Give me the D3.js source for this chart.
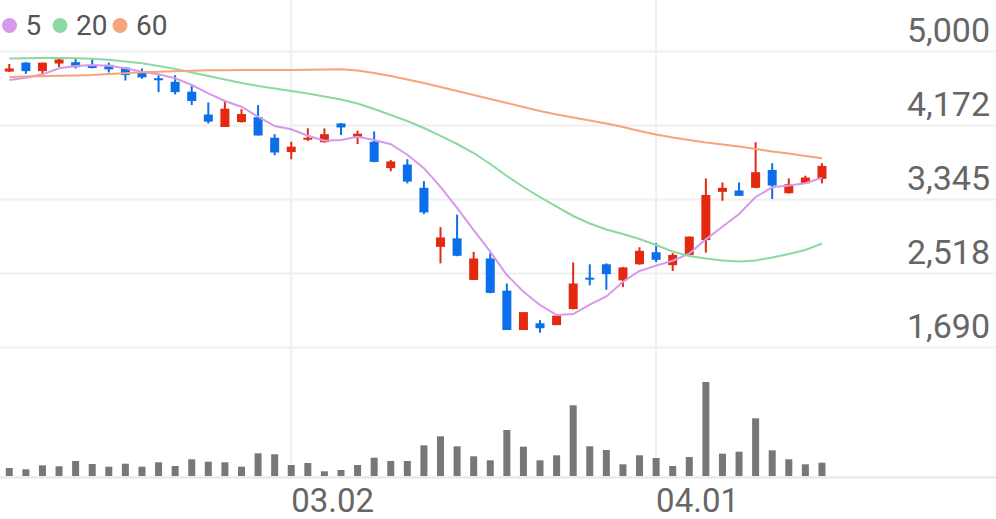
<!DOCTYPE html>
<html><head><meta charset="utf-8">
<script src="https://cdn.jsdelivr.net/npm/d3@7"></script>
<style>html,body{margin:0;padding:0;background:#fff;} svg{display:block;}</style>
</head><body><svg id="c" width="996" height="519"></svg>
<script>
const dates = ["02.06","02.07","02.10","02.11","02.12","02.13","02.14","02.17","02.18","02.19","02.20","02.21","02.24","02.25","02.26","02.27","02.28","03.02","03.03","03.04","03.05","03.06","03.09","03.10","03.11","03.12","03.13","03.16","03.17","03.18","03.19","03.20","03.23","03.24","03.25","03.26","03.27","03.30","03.31","04.01","04.02","04.03","04.06","04.07","04.08","04.09","04.10","04.13","04.14","04.16"];
const open  = [4770,4870,4775,4860,4875,4835,4845,4815,4755,4695,4655,4545,4290,4150,4205,4260,4030,3870,4010,3980,4190,4040,3985,3690,3730,3470,2810,2905,2440,2680,2320,1880,1955,1935,2115,2465,2615,2435,2615,2750,2605,2720,2885,3425,3440,3470,3670,3410,3520,3570];
const high  = [4855,4875,4870,4925,4925,4920,4870,4820,4805,4730,4730,4610,4425,4450,4350,4395,4070,3985,4135,4135,4195,4110,4100,3780,3790,3545,3030,3170,2755,2740,2400,2080,1990,2040,2635,2615,2625,2585,2805,2850,2740,2925,3575,3530,3530,3980,3745,3575,3605,3745];
const low   = [4765,4745,4725,4820,4805,4805,4760,4670,4690,4540,4515,4395,4190,4150,4200,4055,3835,3790,3995,3975,4060,3960,3755,3655,3520,3175,2625,2705,2440,2290,1880,1880,1850,1935,2110,2380,2330,2360,2610,2640,2540,2715,2745,3325,3380,3465,3345,3405,3520,3520];
const close = [4805,4775,4870,4905,4820,4810,4795,4730,4705,4680,4540,4440,4210,4355,4295,4055,3865,3930,4030,4070,4145,4075,3760,3765,3540,3195,2915,2710,2680,2295,1880,2080,1900,2040,2400,2445,2505,2580,2765,2665,2720,2925,3390,3470,3380,3645,3495,3510,3585,3715];
const volume = [80,67,107,97,150,120,93,123,93,137,100,167,143,137,93,227,217,110,130,47,60,110,183,150,150,307,397,297,197,157,460,293,157,207,707,297,260,117,207,180,100,190,940,223,243,577,257,167,117,133];
const ma5  = [4676,4701,4739,4807,4832,4843,4836,4807,4769,4739,4695,4620,4527,4441,4377,4265,4161,4124,4053,3997,4005,4042,4005,3957,3840,3690,3480,3245,2998,2756,2495,2308,2160,2048,2059,2165,2255,2420,2540,2600,2655,2735,2894,3035,3177,3368,3476,3496,3521,3582];
const ma20 = [4916,4919,4922,4922,4918,4913,4902,4883,4862,4832,4799,4760,4720,4681,4642,4609,4581,4553,4525,4491,4458,4413,4351,4284,4217,4139,4050,3960,3859,3736,3602,3479,3367,3261,3155,3071,3004,2954,2898,2831,2758,2708,2680,2657,2646,2657,2691,2730,2775,2848];
const ma60 = [4709,4714,4718,4723,4727,4732,4743,4752,4761,4769,4774,4779,4784,4786,4788,4788,4788,4788,4790,4793,4796,4782,4754,4720,4681,4642,4597,4553,4508,4463,4419,4374,4329,4290,4256,4223,4189,4150,4105,4066,4033,4005,3977,3954,3932,3904,3876,3854,3826,3800];
const maNames = ["5","20","60"];
const maColors = ["#d59aea","#8bd9a2","#f6a47c"];
const priceTicks = [5000,4172.5,3345,2517.5,1690];
const priceTickLabels = ["5,000","4,172","3,345","2,518","1,690"];
const dateTicks = ["03.02","04.01"];

const W = 996, H = 519;
const svg = d3.select('#c');
svg.append('rect').attr('width',W).attr('height',H).attr('fill','#fff');

const x = d3.scaleBand().domain(dates).range([1, 830.25]).padding(0);
const cx = d => x(d) + x.bandwidth()/2;
const y = d3.scaleLinear().domain([1690, 5000]).range([347, 51]);
const yv = d3.scaleLinear().domain([0, d3.max(volume)]).range([476, 382]);

const gridColor = '#efefef';
const labelFont = "Roboto, sans-serif";
// y grid + labels
const gy = svg.append('g')
  .call(d3.axisRight(y).tickValues(priceTicks).tickSize(W).tickFormat((d,i)=>priceTickLabels[i]));
gy.select('.domain').remove();
gy.selectAll('.tick line').attr('stroke', gridColor).attr('stroke-width', 2);
gy.selectAll('.tick text').attr('x', 990).attr('y', -10).attr('dy', 0)
  .attr('text-anchor','end').attr('fill','#666')
  .style('font-family', labelFont).style('font-size','34px');

// x grid + labels
const gx = svg.append('g').attr('transform','translate(0,477)')
  .call(d3.axisBottom(x).tickValues(dateTicks).tickSize(-477));
gx.select('.domain').remove();
gx.selectAll('.tick line').attr('stroke', gridColor).attr('stroke-width', 2);
gx.selectAll('.tick text').attr('x', 0).attr('y', 35).attr('dy', 0)
  .attr('text-anchor','start').attr('fill','#666')
  .style('font-family', labelFont).style('font-size','33px');

svg.append('line').attr('x1',0).attr('x2',W).attr('y1',477.5).attr('y2',477.5)
  .attr('stroke','#e6e6e6').attr('stroke-width',2);

// volume
svg.append('g').selectAll('rect').data(dates).join('rect')
  .attr('x', d => cx(d) - 3.5).attr('width', 7)
  .attr('y', (d,i) => yv(volume[i])).attr('height', (d,i) => 476 - yv(volume[i]))
  .attr('fill', '#777');

// candles
const red = '#e3290f', blue = '#0b6fe9';
const cg = svg.append('g');
const col = i => close[i] >= open[i] ? red : blue;
cg.selectAll('line').data(dates).join('line')
  .attr('x1', d => cx(d)).attr('x2', d => cx(d))
  .attr('y1', (d,i) => y(high[i])).attr('y2', (d,i) => y(low[i]))
  .attr('stroke', (d,i) => col(i)).attr('stroke-width', 2);
cg.selectAll('rect').data(dates).join('rect')
  .attr('x', d => cx(d) - 4.5).attr('width', 9)
  .attr('y', (d,i) => y(Math.max(open[i], close[i])))
  .attr('height', (d,i) => Math.max(2, Math.abs(y(open[i]) - y(close[i]))))
  .attr('fill', (d,i) => col(i));

// moving averages
[ma5, ma20, ma60].forEach((arr, k) => {
  const line = d3.line().x((v,i) => cx(dates[i])).y(v => y(v));
  svg.append('path').datum(arr).attr('d', line)
    .attr('fill','none').attr('stroke', maColors[k]).attr('stroke-width', 2);
});

// legend
const legX = [9.5, 60, 120];
const lg = svg.append('g').attr('font-family', labelFont).attr('font-size',28);
maNames.forEach((n,k) => {
  lg.append('circle').attr('cx', legX[k]).attr('cy', 25.5).attr('r', 7.5).attr('fill', maColors[k]);
  lg.append('text').attr('x', legX[k] + 16).attr('y', 35).attr('fill','#555').text(n);
});
</script>
</body></html>
